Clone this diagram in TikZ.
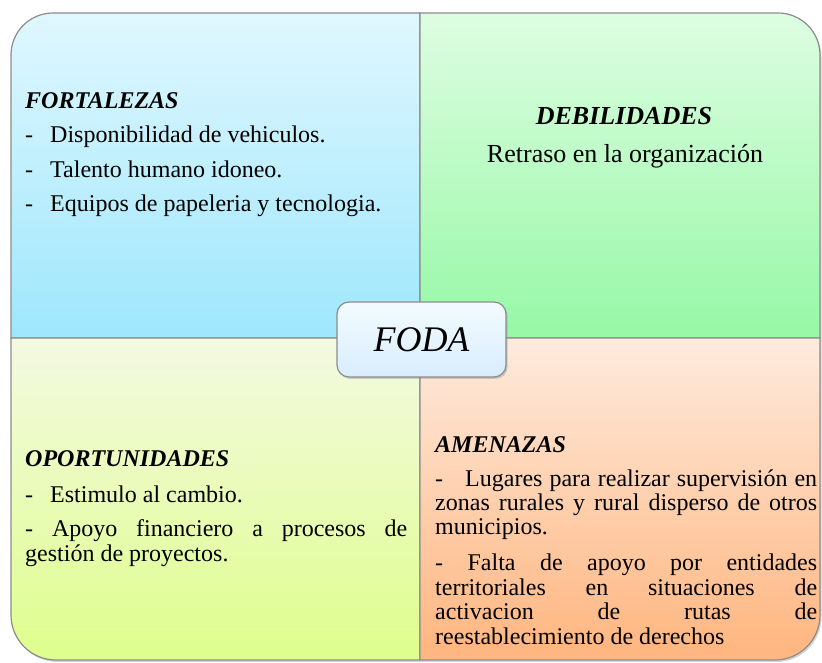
\documentclass[tikz,border=0pt]{standalone}
\usepackage{fontspec}
\setmainfont{Liberation Serif}
\usetikzlibrary{shadows}
\definecolor{tlA}{RGB}{224,247,254}
\definecolor{tlB}{RGB}{158,231,252}
\definecolor{trA}{RGB}{222,253,226}
\definecolor{trB}{RGB}{150,248,166}
\definecolor{blA}{RGB}{244,249,226}
\definecolor{blB}{RGB}{222,254,140}
\definecolor{brA}{RGB}{253,235,222}
\definecolor{brB}{RGB}{255,181,126}
\definecolor{fdA}{RGB}{243,251,255}
\definecolor{fdB}{RGB}{216,237,253}
\definecolor{edge}{RGB}{140,140,140}
\tikzset{
  quad/.style={draw=edge, line width=1.2pt,
    drop shadow={shadow xshift=1.5pt, shadow yshift=-2pt, opacity=0.35}},
  txt/.style={anchor=base west, inner sep=0pt, font=\fontsize{24}{24.5}\selectfont},
  ttl/.style={txt, font=\fontsize{24}{24.5}\selectfont\bfseries\itshape},
  bigtxt/.style={anchor=base, inner sep=0pt, font=\fontsize{26}{26}\selectfont},
  bigttl/.style={bigtxt, font=\fontsize{26}{26}\selectfont\bfseries\itshape},
  centerbox/.style={draw=edge, line width=1.2pt, rounded corners=12pt,
    top color=fdA, bottom color=fdB, minimum width=169pt, minimum height=75pt,
    inner sep=0pt, font=\fontsize{36}{36}\selectfont\itshape,
    drop shadow={shadow xshift=1.5pt, shadow yshift=-2pt, opacity=0.35}},
}
\newcommand{\jline}[2]{\makebox[#1][s]{#2}}
\begin{document}
\begin{tikzpicture}[x=1pt,y=1pt]
\useasboundingbox (0,0) rectangle (822,663);
% quadrants
\path[quad, top color=tlA, bottom color=tlB]
  (420,325) -- (11,325) -- (11,608) arc[start angle=180,end angle=90,radius=42pt] -- (420,650) -- cycle;
\path[quad, top color=trA, bottom color=trB]
  (420,325) -- (420,650) -- (778,650) arc[start angle=90,end angle=0,radius=42pt] -- (820,325) -- cycle;
\path[quad, top color=blA, bottom color=blB]
  (420,325) -- (11,325) -- (11,48) arc[start angle=180,end angle=270,radius=45pt] -- (420,3) -- cycle;
\path[quad, top color=brA, bottom color=brB]
  (420,325) -- (820,325) -- (820,48) arc[start angle=0,end angle=-90,radius=45pt] -- (420,3) -- cycle;

% FORTALEZAS
\node[ttl] (f0) at (25,554) {FORTALEZAS};
\node[txt] (f1d) at (25,520) {-};
\node[txt] (f1) at (50,520) {Disponibilidad de vehiculos.};
\node[txt] (f2d) at (25,485) {-};
\node[txt] (f2) at (50,485) {Talento humano idoneo.};
\node[txt] (f3d) at (25,451) {-};
\node[txt] (f3) at (50,451) {Equipos de papeleria y tecnologia.};

% DEBILIDADES
\node[bigttl] (d0) at (624,538) {DEBILIDADES};
\node[bigtxt] (d1) at (625,500) {Retraso en la organización};

% OPORTUNIDADES
\node[ttl] (o0) at (25,196) {OPORTUNIDADES};
\node[txt] (o1d) at (25,160) {-};
\node[txt] (o1) at (50,160) {Estimulo al cambio.};
\node[txt] (o2) at (25,126) {\jline{382pt}{- Apoyo financiero a procesos de}};
\node[txt] (o3) at (25,101) {gestión de proyectos.};

% AMENAZAS
\node[ttl] (a0) at (435,210) {AMENAZAS};
\node[txt] (a1d) at (435,176) {-};
\node[txt] (a1) at (465,176) {\jline{352pt}{Lugares para realizar supervisión en}};
\node[txt] (a2) at (435,152) {\jline{382pt}{zonas rurales y rural disperso de otros}};
\node[txt] (a3) at (435,128) {municipios.};
\node[txt] (a4) at (435,92) {\jline{382pt}{- Falta de apoyo por entidades}};
\node[txt] (a5) at (435,67) {\jline{382pt}{territoriales en situaciones de}};
\node[txt] (a6) at (435,43) {\jline{382pt}{activacion de rutas de}};
\node[txt] (a7) at (435,18) {reestablecimiento de derechos};

% center
\node[centerbox] (foda) at (421.5,323.5) {FODA};
\end{tikzpicture}
\end{document}
